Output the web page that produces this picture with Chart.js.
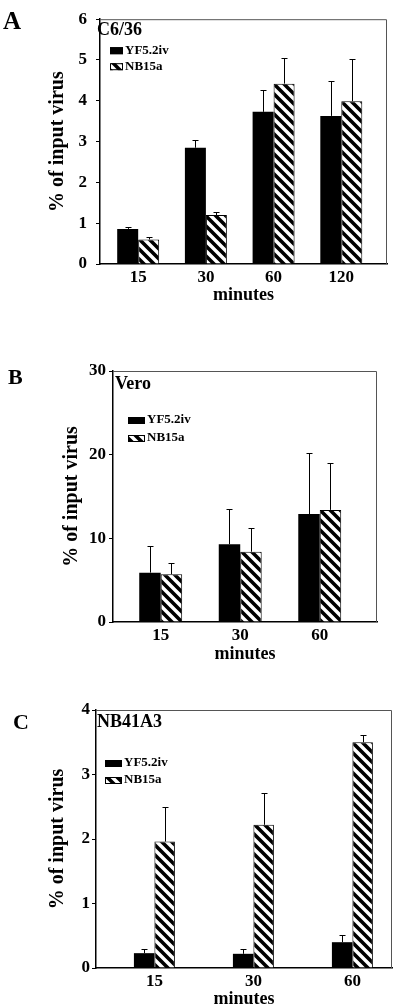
<!DOCTYPE html>
<html>
<head>
<meta charset="utf-8">
<script src="https://cdn.jsdelivr.net/npm/chart.js@4.4.1/dist/chart.umd.min.js"></script>
<style>
  html, body { margin: 0; padding: 0; background: #fff; }
  body { width: 400px; height: 1004px; position: relative; overflow: hidden; font-family: 'Liberation Serif', 'Times New Roman', serif; }
  .painel { position: absolute; left: 0; width: 400px; }
  .letra { position: absolute; font-weight: bold; line-height: 1; color: #000; }
</style>
</head>
<body>
<div class="painel" style="top:0;height:310px"><canvas id="chartA"></canvas></div>
<div class="painel" style="top:350px;height:320px"><canvas id="chartB"></canvas></div>
<div class="painel" style="top:690px;height:330px"><canvas id="chartC"></canvas></div>
<div class="letra" style="left:3px;top:8px;font-size:25px">A</div>
<div class="letra" style="left:8px;top:366px;font-size:22px">B</div>
<div class="letra" style="left:13px;top:711px;font-size:22px">C</div>

<script>
// ------------ Dados ------------
const seriesNames = ['YF5.2iv', 'NB15a'];

// A - C6/36
const minutesA = ['15', '30', '60', '120'];
const yfA = [0.86, 2.85, 3.73, 3.63];
const yfErrA = [0.05, 0.18, 0.53, 0.86];
const nbA = [0.60, 1.20, 4.42, 3.99];
const nbErrA = [0.05, 0.07, 0.62, 1.04];

// B - Vero
const minutesB = ['15', '30', '60'];
const yfB = [5.9, 9.3, 12.9];
const yfErrB = [3.2, 4.2, 7.3];
const nbB = [5.7, 8.4, 13.4];
const nbErrB = [1.3, 2.8, 5.6];

// C - NB41A3
const minutesC = ['15', '30', '60'];
const yfC = [0.23, 0.22, 0.40];
const yfErrC = [0.06, 0.08, 0.11];
const nbC = [1.96, 2.22, 3.50];
const nbErrC = [0.54, 0.50, 0.11];

const fonte = '"Liberation Serif", "Times New Roman", serif';

// ------------ Hachura ------------
function criarHachura() {
  const s = 10;
  const c = document.createElement('canvas');
  c.width = s; c.height = s;
  const g = c.getContext('2d');
  g.fillStyle = '#fff';
  g.fillRect(0, 0, s, s);
  g.strokeStyle = '#000';
  g.lineWidth = 3.6;
  g.lineCap = 'square';
  g.beginPath();
  for (let k = -1; k <= 1; k++) {
    g.moveTo(k * s, 0);
    g.lineTo(k * s + s, s);
  }
  g.stroke();
  return g.createPattern(c, 'repeat');
}
const hachura = criarHachura();

// ------------ Plugin: moldura, barras de erro, legenda ------------
const extrasPlugin = {
  id: 'extras',
  beforeDatasetsDraw(chart) {
    const { ctx, chartArea: a } = chart;
    ctx.save();
    ctx.strokeStyle = '#555';
    ctx.lineWidth = 1;
    ctx.beginPath();
    ctx.moveTo(a.left, a.top + 0.5);
    ctx.lineTo(a.right - 0.5, a.top + 0.5);
    ctx.lineTo(a.right - 0.5, a.bottom);
    ctx.stroke();
    ctx.restore();
  },
  afterDatasetsDraw(chart, args, opts) {
    const { ctx, chartArea: a, scales } = chart;
    ctx.save();
    ctx.strokeStyle = '#000';
    ctx.lineWidth = 1;
    chart.data.datasets.forEach((ds, d) => {
      chart.getDatasetMeta(d).data.forEach((bar, i) => {
        const v = ds.data[i].y;
        const x = Math.round(bar.x) + 0.5;
        const y0 = scales.y.getPixelForValue(v);
        const y1 = Math.round(scales.y.getPixelForValue(v + opts.errors[d][i])) + 0.5;
        ctx.beginPath();
        ctx.moveTo(x, y0);
        ctx.lineTo(x, y1);
        ctx.moveTo(x - 3, y1);
        ctx.lineTo(x + 3, y1);
        ctx.stroke();
      });
    });

    ctx.fillStyle = '#000';
    ctx.textBaseline = 'middle';
    ctx.font = 'bold 18px ' + fonte;
    ctx.fillText(opts.title, a.left + opts.titleX, a.top + opts.titleY);

    ctx.font = 'bold 13px ' + fonte;
    chart.data.datasets.forEach((ds, d) => {
      const cy = a.top + opts.legendY + d * opts.legendGap;
      const bx = a.left + opts.legendX;
      ctx.fillStyle = ds.backgroundColor;
      ctx.fillRect(bx, cy - 3, opts.boxW, 7);
      ctx.strokeRect(bx + 0.5, cy - 2.5, opts.boxW - 1, 6);
      ctx.fillStyle = '#000';
      ctx.fillText(ds.label, bx + opts.boxW + 2, cy);
    });
    ctx.restore();
  }
};

// ------------ Gráficos ------------
function criarGrafico(id, p) {
  const tickFont = { family: fonte, size: 17, weight: 'bold' };
  const toPoints = arr => arr.map((v, i) => ({ x: i, y: v }));

  return new Chart(document.getElementById(id), {
    type: 'bar',
    data: {
      datasets: [{
        label: seriesNames[0],
        data: toPoints(p.yf),
        backgroundColor: '#000',
        borderColor: '#000',
        borderWidth: 0
      }, {
        label: seriesNames[1],
        data: toPoints(p.nb),
        backgroundColor: hachura,
        borderColor: '#000',
        borderWidth: 1
      }]
    },
    options: {
      responsive: true,
      maintainAspectRatio: false,
      animation: false,
      devicePixelRatio: 1,
      categoryPercentage: p.catPct,
      barPercentage: 1,
      layout: { padding: { left: 0, top: p.padTop, right: p.padRight, bottom: 0 } },
      plugins: {
        legend: { display: false },
        tooltip: { enabled: false },
        extras: {
          errors: [p.yfErr, p.nbErr],
          title: p.title,
          titleX: p.titleX, titleY: p.titleY,
          legendX: p.legendX, legendY: p.legendY, legendGap: p.legendGap, boxW: p.boxW
        }
      },
      scales: {
        x: {
          type: 'linear',
          offset: false,
          min: p.xMin,
          max: p.xMax,
          grid: { display: false, drawTicks: false, offset: false },
          border: { display: true, color: '#000', width: 1.5 },
          ticks: {
            padding: 3, color: '#000', font: tickFont, autoSkip: false,
            callback: v => p.labels[v]
          },
          // one tick per category, at its index
          afterBuildTicks: s => {
            s.ticks = p.labels.map((lab, i) => ({ value: i }));
          },
          afterFit: s => { s.height = p.xHeight; },
          title: {
            display: true, text: 'minutes', color: '#000',
            font: { family: fonte, size: 18, weight: 'bold' },
            padding: { top: 0, bottom: p.xTitlePad }
          }
        },
        y: {
          min: 0,
          max: p.yMax,
          ticks: { stepSize: p.yStep, padding: p.yTickPad, color: '#000', font: tickFont },
          grid: { drawOnChartArea: false, drawTicks: true, tickLength: 4, color: '#000', lineWidth: 1 },
          border: { display: true, color: '#000', width: 1.5 },
          afterFit: s => { s.width = p.yWidth; },
          title: {
            display: true, text: '% of input virus', color: '#000',
            font: { family: fonte, size: 20, weight: 'bold' },
            padding: { top: p.yTitlePad, bottom: 0 }
          }
        }
      }
    },
    plugins: [extrasPlugin]
  });
}

criarGrafico('chartA', {
  labels: minutesA, yf: yfA, yfErr: yfErrA, nb: nbA, nbErr: nbErrA,
  title: 'C6/36', yMax: 6, yStep: 1,
  padTop: 13, padRight: 13, yWidth: 100, xHeight: 46,
  xMin: -0.564, xMax: 3.675, catPct: 0.62,
  yTickPad: 9, yTitlePad: 46, xTitlePad: 4,
  titleX: -3, titleY: 11, legendX: 10, legendY: 31, legendGap: 16, boxW: 13
});

criarGrafico('chartB', {
  labels: minutesB, yf: yfB, yfErr: yfErrB, nb: nbB, nbErr: nbErrB,
  title: 'Vero', yMax: 30, yStep: 10,
  padTop: 21, padRight: 23, yWidth: 113, xHeight: 48,
  xMin: -0.60, xMax: 2.72, catPct: 0.54,
  yTickPad: 3, yTitlePad: 60, xTitlePad: 5,
  titleX: 2, titleY: 13, legendX: 15, legendY: 49, legendGap: 18, boxW: 17
});

criarGrafico('chartC', {
  labels: minutesC, yf: yfC, yfErr: yfErrC, nb: nbC, nbErr: nbErrC,
  title: 'NB41A3', yMax: 4, yStep: 1,
  padTop: 20, padRight: 8, yWidth: 96, xHeight: 52,
  xMin: -0.59, xMax: 2.40, catPct: 0.414,
  yTickPad: 2, yTitlePad: 46, xTitlePad: 10,
  titleX: 1, titleY: 12, legendX: 9, legendY: 53, legendGap: 17, boxW: 17
});
</script>
</body>
</html>
